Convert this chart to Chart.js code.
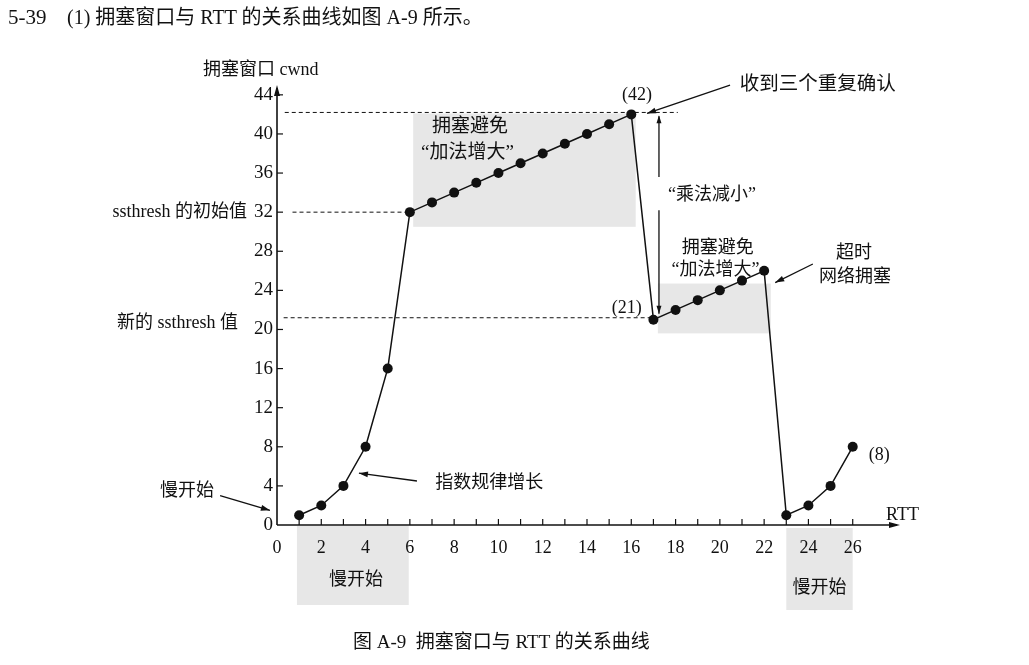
<!DOCTYPE html>
<html><head><meta charset="utf-8">
<script src="https://cdn.jsdelivr.net/npm/chart.js@4.4.1/dist/chart.umd.min.js"></script>
<style>
html,body{margin:0;padding:0;background:#fff;}
#wrap{position:relative;width:1029px;height:665px;overflow:hidden;background:#fff;}
canvas{position:absolute;left:0;top:0;}
.t{position:absolute;font-family:"Liberation Serif","Noto Sans CJK SC",serif;color:#111;white-space:nowrap;line-height:1;}
</style></head><body>
<div id="wrap">
<canvas id="c" width="1029" height="665"></canvas>
<div class="t" style="left:8px;top:7px;font-size:21px;">5-39</div>
<div class="t" style="left:67px;top:7px;font-size:20px;">(1) 拥塞窗口与 RTT 的关系曲线如图 A-9 所示。</div>
<div class="t" style="left:353px;top:632px;font-size:19px;">图 A-9&nbsp;&nbsp;拥塞窗口与 RTT 的关系曲线</div>
</div>
<script>
// ---- data ----
const rtt  = [1,2,3,4,5,6,7,8,9,10,11,12,13,14,15,16,17,18,19,20,21,22,23,24,25,26];
const cwnd = [1,2,4,8,16,32,33,34,35,36,37,38,39,40,41,42,21,22,23,24,25,26,1,2,4,8];
const xTickLabels = [0,2,4,6,8,10,12,14,16,18,20,22,24,26];
const xMinorTicks = [1,2,3,4,5,6,7,8,9,10,11,12,13,14,15,16,17,18,19,20,21,22,23,24,25,26];
const yTickLabels = [0,4,8,12,16,20,24,28,32,36,40,44];
const ssthreshInit = 32;
const ssthreshNew = 21;
const peakValue = 42;

const FONT = '"Liberation Serif", "Noto Sans CJK SC", serif';
const INK = '#111';

function arrowHead(ctx, x0, y0, x1, y1, len, half){
  const a = Math.atan2(y1-y0, x1-x0);
  ctx.beginPath();
  ctx.moveTo(x1, y1);
  ctx.lineTo(x1 - len*Math.cos(a) + half*Math.sin(a), y1 - len*Math.sin(a) - half*Math.cos(a));
  ctx.lineTo(x1 - len*Math.cos(a) - half*Math.sin(a), y1 - len*Math.sin(a) + half*Math.cos(a));
  ctx.closePath();
  ctx.fill();
}
function arrow(ctx, x0, y0, x1, y1){
  ctx.beginPath(); ctx.moveTo(x0,y0); ctx.lineTo(x1,y1); ctx.stroke();
  arrowHead(ctx, x0, y0, x1, y1, 9, 3);
}

const deco = {
  id: 'deco',
  beforeDraw(chart){
    const {ctx, scales:{x, y}} = chart;
    const X = v => x.getPixelForValue(v), Y = v => y.getPixelForValue(v);
    const base = Y(0);
    ctx.save();
    // shaded phase boxes (under everything, incl. tick labels)
    ctx.fillStyle = '#e7e7e7';
    const box = (x0,y0,x1,y1) => ctx.fillRect(x0, y0, x1-x0, y1-y0);
    box(X(6.15), Y(42.1), X(16.2), Y(30.5));
    box(X(17.2), Y(24.7), X(22.3), Y(19.6));
    box(X(0.9), base+1, X(5.95), base+80);
    box(X(23), base+3, X(26), base+85);
    ctx.restore();
  },
  beforeDatasetsDraw(chart){
    const {ctx, chartArea, scales:{x, y}} = chart;
    const X = v => x.getPixelForValue(v), Y = v => y.getPixelForValue(v);
    const base = Y(0);
    ctx.save();
    // dashed reference lines
    ctx.strokeStyle = INK; ctx.lineWidth = 1; ctx.setLineDash([4,3]);
    const hline = (v, a, b) => { ctx.beginPath(); ctx.moveTo(X(a), Y(v)); ctx.lineTo(X(b), Y(v)); ctx.stroke(); };
    hline(peakValue + 0.2, 0.35, 18.1);
    hline(ssthreshInit, 0.7, 6);
    hline(ssthreshNew + 0.2, 0.3, 17);
    ctx.setLineDash([]);

    // axes with arrows
    ctx.lineWidth = 1.6; ctx.fillStyle = INK;
    ctx.beginPath(); ctx.moveTo(chartArea.left, base); ctx.lineTo(chartArea.left, chartArea.top); ctx.stroke();
    arrowHead(ctx, chartArea.left, base, chartArea.left, chartArea.top - 3, 11, 3);
    ctx.beginPath(); ctx.moveTo(chartArea.left, base); ctx.lineTo(chartArea.right, base); ctx.stroke();
    arrowHead(ctx, chartArea.left, base, chartArea.right + 3, base, 11, 3);

    // inner tick marks
    ctx.lineWidth = 1.2;
    xMinorTicks.forEach(v => { ctx.beginPath(); ctx.moveTo(X(v), base); ctx.lineTo(X(v), base-6); ctx.stroke(); });
    yTickLabels.forEach(v => { if (v===0) return; ctx.beginPath(); ctx.moveTo(chartArea.left, Y(v)); ctx.lineTo(chartArea.left+6, Y(v)); ctx.stroke(); });
    ctx.restore();
  },
  afterDatasetsDraw(chart){
    const {ctx, scales:{x, y}} = chart;
    const X = v => x.getPixelForValue(v), Y = v => y.getPixelForValue(v);
    const base = Y(0);
    ctx.save();
    ctx.fillStyle = INK; ctx.strokeStyle = INK; ctx.lineWidth = 1.3;
    ctx.textBaseline = 'middle';
    const txt = (s, px, py, align, size) => { ctx.font = (size||18) + 'px ' + FONT; ctx.textAlign = align||'center'; ctx.fillText(s, px, py); };

    txt('拥塞窗口 cwnd', X(-3.34), Y(46.5), 'left', 18);
    txt('ssthresh 的初始值', X(-1.36), Y(ssthreshInit), 'right', 18);
    txt('新的 ssthresh 值', X(-1.76), Y(20.65), 'right', 18);
    txt('慢开始', X(-4.07), Y(3.4), 'center', 18);
    arrow(ctx, X(-2.57), Y(3.0), X(-0.32), Y(1.5));

    txt('指数规律增长', X(9.58), Y(4.3), 'center', 18);
    arrow(ctx, X(6.32), Y(4.5), X(3.7), Y(5.3));

    txt('拥塞避免', X(8.72), Y(40.7), 'center', 19);
    txt('“加法增大”', X(8.6), Y(38.1), 'center', 19);
    txt('(42)', X(16.26), Y(44.0), 'center', 18);
    txt('收到三个重复确认', X(20.9), Y(45.0), 'left', 19.5);
    arrow(ctx, X(20.46), Y(45.0), X(16.71), Y(42.1));

    // multiplicative decrease arrow
    ctx.beginPath(); ctx.moveTo(X(17.25), Y(35.6)); ctx.lineTo(X(17.25), Y(41.8)); ctx.stroke();
    arrowHead(ctx, X(17.25), Y(35.6), X(17.25), Y(41.9), 8, 2.5);
    ctx.beginPath(); ctx.moveTo(X(17.25), Y(32.2)); ctx.lineTo(X(17.25), Y(21.6)); ctx.stroke();
    arrowHead(ctx, X(17.25), Y(32.2), X(17.25), Y(21.6), 8, 2.5);
    txt('“乘法减小”', X(19.65), Y(33.7), 'center', 18);

    txt('拥塞避免', X(19.9), Y(28.3), 'center', 18);
    txt('“加法增大”', X(19.8), Y(26.1), 'center', 18);
    txt('(21)', X(15.8), Y(22.2), 'center', 18);
    txt('超时', X(26.06), Y(27.8), 'center', 18);
    txt('网络拥塞', X(26.1), Y(25.3), 'center', 18);
    arrow(ctx, X(24.2), Y(26.7), X(22.5), Y(24.8));

    txt('(8)', X(27.2), Y(7.1), 'center', 18);
    txt('RTT', X(28.25), Y(1.0), 'center', 18);
    txt('慢开始', X(3.57), base + 55, 'center', 18);
    txt('慢开始', X(24.5), base + 63, 'center', 18);
    ctx.restore();
  }
};

new Chart(document.getElementById('c'), {
  type: 'line',
  data: {
    datasets: [{
      data: rtt.map((r, i) => ({x: r, y: cwnd[i]})),
      borderColor: INK,
      borderWidth: 1.5,
      pointRadius: 5,
      pointBackgroundColor: INK,
      pointBorderColor: INK,
      pointBorderWidth: 0,
      tension: 0,
      fill: false
    }]
  },
  options: {
    responsive: false,
    animation: false,
    devicePixelRatio: 1,
    layout: { padding: { left: 0, top: 88, right: 132, bottom: 0 } },
    plugins: { legend: { display: false }, tooltip: { enabled: false } },
    scales: {
      x: {
        type: 'linear', min: 0, max: 28,
        grid: { display: false, drawTicks: false },
        border: { display: false },
        afterFit: s => { s.height = 140; },
        afterBuildTicks: s => { s.ticks = xTickLabels.map(v => ({value: v})); },
        ticks: { padding: 12, color: INK, font: { family: FONT, size: 18 }, maxRotation: 0, autoSkip: false }
      },
      y: {
        type: 'linear', min: 0, max: 44.7,
        grid: { display: false, drawTicks: false },
        border: { display: false },
        afterFit: s => { s.width = 277; },
        afterBuildTicks: s => { s.ticks = yTickLabels.map(v => ({value: v})); },
        ticks: { padding: 4, color: INK, font: { family: FONT, size: 19 }, autoSkip: false }
      }
    }
  },
  plugins: [deco]
});
</script>
</body></html>
